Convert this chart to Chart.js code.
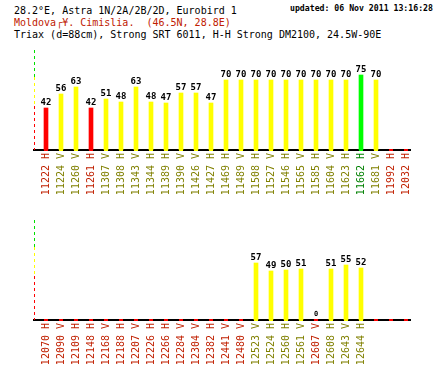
<!DOCTYPE html>
<html>
<head>
<meta charset="utf-8">
<title>28.2E Astra - Cimislia</title>
<script src="https://cdn.jsdelivr.net/npm/chart.js@4/dist/chart.umd.min.js"></script>
<style>
    body { margin: 0; background: #fff; width: 440px; height: 370px; overflow: hidden; position: relative; font-family: "DejaVu Sans Mono", monospace; }
    .line { position: absolute; left: 14px; font-size: 10px; line-height: 12px; white-space: pre; color: #000; }
    #line1 { top: 5px; }
    #line2 { top: 17px; color: #c02000; }
    #line3 { top: 29px; }
    #updated { position: absolute; left: 290px; top: 3px; font-size: 8.2px; line-height: 10px; font-weight: bold; white-space: pre; }
    canvas { position: absolute; left: 0; }
    #topChart { top: 0; }
    #bottomChart { top: 170px; }
</style>
</head>
<body>
<div class="line" id="line1">28.2°E, Astra 1N/2A/2B/2D, Eurobird 1</div>
<div class="line" id="line2">Moldova┌¥. Cimislia.  (46.5N, 28.8E)</div>
<div class="line" id="line3">Triax (d=88cm), Strong SRT 6011, H-H Strong DM2100, 24.5W-90E</div>
<div id="updated">updated: 06 Nov 2011 13:16:28</div>
<canvas id="topChart" width="440" height="200"></canvas>
<canvas id="bottomChart" width="440" height="200"></canvas>
<script>
// Signal levels per transponder, two rows of 25 slots.
var topFreqs = ["11222", "11224", "11260", "11261", "11307", "11308", "11343", "11344", "11389", "11390", "11426", "11427",
    "11469", "11489", "11508", "11527", "11546", "11565", "11585", "11604", "11623", "11662", "11681", "11992", "12032"];
var topPols = ["H", "V", "V", "H", "V", "H", "V", "H", "H", "V", "V", "H",
    "H", "V", "H", "V", "H", "V", "H", "V", "H", "H", "V", "H", "H"];
var topValues = [42, 56, 63, 42, 51, 48, 63, 48, 47, 57, 57, 47,
    70, 70, 70, 70, 70, 70, 70, 70, 70, 75, 70, null, null];

var bottomFreqs = ["12070", "12090", "12109", "12148", "12168", "12188", "12207", "12226", "12266", "12284", "12304", "12382",
    "12441", "12480", "12523", "12524", "12560", "12561", "12607", "12608", "12643", "12644"];
var bottomPols = ["H", "V", "H", "H", "V", "H", "V", "H", "H", "V", "V", "H",
    "V", "V", "V", "H", "H", "V", "V", "H", "V", "H"];
var bottomValues = [null, null, null, null, null, null, null, null, null, null, null, null,
    null, null, 57, 49, 50, 51, 0, 51, 55, 52, null, null, null];

var slotCount = 25;
var slotMin = -0.8;
var slotMax = 24.2667;
var levelMax = 100;
var greenLevel = 73;
var redLevel = 44;

document.addEventListener("DOMContentLoaded", function () {
    createPanel("topChart", topFreqs, topPols, topValues);
    createPanel("bottomChart", bottomFreqs, bottomPols, bottomValues);
});

function barColor(value) {
    if (value == null || value < redLevel) {
        return "#ff0000";
    }
    if (value >= greenLevel) {
        return "#00ff00";
    }
    return "#ffff00";
}

function textColor(value) {
    if (value == null || value < redLevel) {
        return "#c02000";
    }
    if (value >= greenLevel) {
        return "#008000";
    }
    return "#808000";
}

// Dashed level line, coloured marks on the axis and the numbers above the bars.
var panelDecor = {
    id: "panelDecor",
    afterDatasetsDraw: function (chart) {
        var ctx = chart.ctx;
        var area = chart.chartArea;
        var xScale = chart.scales.x;
        var yScale = chart.scales.y;
        var values = chart.options.plugins.panelDecor.values;

        ctx.save();
        ctx.lineWidth = 1;
        ctx.setLineDash([3, 3]);
        drawSegment(ctx, yScale, area.left + 0.5, levelMax, greenLevel, "#00e000");
        drawSegment(ctx, yScale, area.left + 0.5, greenLevel, redLevel, "#ffff00");
        drawSegment(ctx, yScale, area.left + 0.5, redLevel, 0, "#ff0000");
        ctx.setLineDash([]);

        for (var i = 0; i < slotCount; i++) {
            var x = Math.round(xScale.getPixelForValue(i));
            ctx.fillStyle = barColor(values[i]);
            ctx.fillRect(x - 2, area.bottom - 1, 4, 2);
        }

        var meta = chart.getDatasetMeta(0);
        ctx.fillStyle = "#000";
        ctx.textAlign = "center";
        ctx.textBaseline = "alphabetic";
        for (var j = 0; j < values.length; j++) {
            if (values[j] == null) {
                continue;
            }
            var bar = meta.data[j];
            if (values[j] === 0) {
                ctx.font = "bold 7px 'DejaVu Sans Mono'";
                ctx.fillText("0", bar.x, area.bottom - 4);
            } else {
                ctx.font = "bold 9px 'DejaVu Sans Mono'";
                ctx.fillText(String(values[j]), bar.x, bar.y - 3);
            }
        }
        ctx.restore();
    }
};

function drawSegment(ctx, yScale, x, from, to, color) {
    ctx.strokeStyle = color;
    ctx.beginPath();
    ctx.moveTo(x, yScale.getPixelForValue(from));
    ctx.lineTo(x, yScale.getPixelForValue(to));
    ctx.stroke();
}

function createPanel(canvasId, freqs, pols, values) {
    var canvas = document.getElementById(canvasId);
    if (canvas == null || typeof Chart === "undefined") {
        return;
    }

    var points = [];
    var colors = [];
    for (var i = 0; i < values.length; i++) {
        points.push({ x: i, y: values[i] });
        colors.push(barColor(values[i]));
    }

    new Chart(canvas, {
        type: "bar",
        data: {
            datasets: [{
                data: points,
                backgroundColor: colors,
                borderWidth: 0,
                barThickness: 4
            }]
        },
        options: {
            responsive: false,
            animation: false,
            layout: { padding: { left: 34, right: 30, top: 50, bottom: 0 } },
            plugins: {
                legend: { display: false },
                tooltip: { enabled: false },
                panelDecor: { values: values }
            },
            scales: {
                x: {
                    type: "linear",
                    offset: false,
                    min: slotMin,
                    max: slotMax,
                    grid: { display: false, drawTicks: false },
                    border: { display: true, color: "#000", width: 2 },
                    afterBuildTicks: function (scale) {
                        var ticks = [];
                        for (var k = 0; k < freqs.length; k++) {
                            ticks.push({ value: k });
                        }
                        scale.ticks = ticks;
                    },
                    afterFit: function (scale) {
                        scale.height = 50;
                        scale.paddingLeft = 0;
                        scale.paddingRight = 0;
                    },
                    ticks: {
                        autoSkip: false,
                        minRotation: 90,
                        maxRotation: 90,
                        padding: 3,
                        font: { family: "DejaVu Sans Mono", size: 10 },
                        color: function (context) {
                            return textColor(values[context.index]);
                        },
                        callback: function (value, index) {
                            return freqs[index] + " " + pols[index];
                        }
                    }
                },
                y: {
                    display: false,
                    min: 0,
                    max: levelMax
                }
            }
        },
        plugins: [panelDecor]
    });
}
</script>
</body>
</html>
